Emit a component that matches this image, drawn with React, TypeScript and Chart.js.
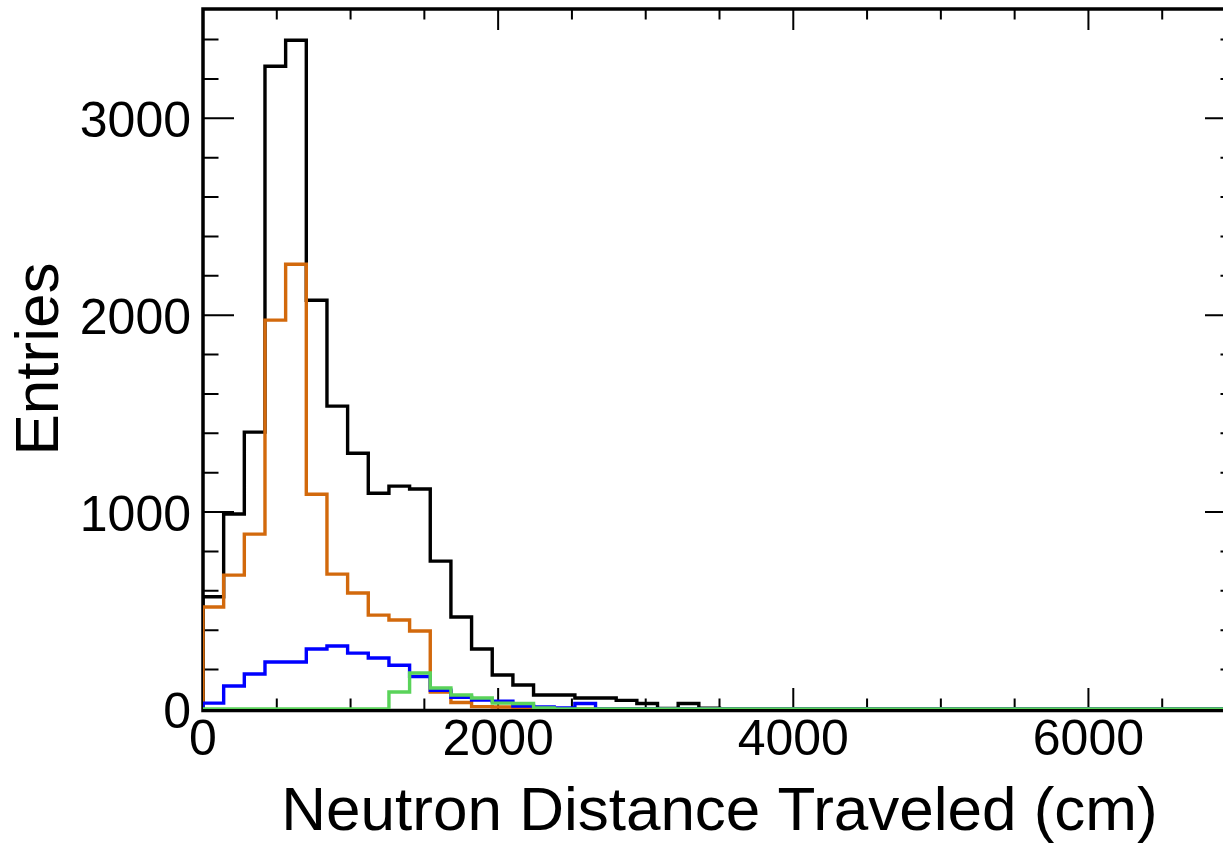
import React, { useEffect, useRef } from "react";
import { Chart, registerables } from "chart.js";

Chart.register(...registerables);

// Histogram binning: 50 bins of 140 cm from 0 to 7000 cm
const X_MIN = 0;
const X_MAX = 7000;
const BIN_WIDTH = 140;
const Y_MAX = 3555;

const X_TICK_VALUES = [0, 2000, 4000, 6000];
const X_TICK_LABELS = ["0", "2000", "4000", "6000"];
const Y_TICK_VALUES = [0, 1000, 2000, 3000];
const Y_TICK_LABELS = ["0", "1000", "2000", "3000"];

const totalCounts = [
  570, 990, 1406, 3264, 3396, 2076, 1538, 1299, 1096, 1132,
  1117, 751, 467, 305, 173, 122, 71, 71, 56, 56,
  44, 28, 3, 28, 4, 2, 1, 0, 0, 0,
  0, 0, 0, 0, 0, 0, 0, 0, 0, 0,
  0, 0, 0, 0, 0, 0, 0, 0, 0, 0,
];
const orangeCounts = [
  518, 680, 888, 1975, 2259, 1091, 685, 589, 477, 452,
  396, 86, 33, 12, 10, 8, 0, 0, 0, 0,
  0, 0, 0, 0, 0, 0, 0, 0, 0, 0,
  0, 0, 0, 0, 0, 0, 0, 0, 0, 0,
  0, 0, 0, 0, 0, 0, 0, 0, 0, 0,
];
const blueCounts = [
  30, 117, 178, 239, 239, 305, 320, 284, 259, 222,
  165, 95, 60, 45, 40, 15, 10, 5, 28, 0,
  0, 0, 0, 0, 0, 0, 0, 0, 0, 0,
  0, 0, 0, 0, 0, 0, 0, 0, 0, 0,
  0, 0, 0, 0, 0, 0, 0, 0, 0, 0,
];
const greenCounts = [
  0, 0, 0, 0, 0, 0, 0, 0, 0, 86,
  183, 107, 71, 56, 30, 28, 5, 0, 0, 0,
  0, 0, 0, 0, 0, 0, 0, 0, 0, 0,
  0, 0, 0, 0, 0, 0, 0, 0, 0, 0,
  0, 0, 0, 0, 0, 0, 0, 0, 0, 0,
];

const FONT = "'Liberation Sans', Arial, Helvetica, sans-serif";

function histPoints(counts: number[]) {
  const pts: { x: number; y: number }[] = [{ x: X_MIN, y: 0 }];
  counts.forEach((c, i) => pts.push({ x: X_MIN + i * BIN_WIDTH, y: c }));
  pts.push({ x: X_MIN + counts.length * BIN_WIDTH, y: counts[counts.length - 1] });
  pts.push({ x: X_MIN + counts.length * BIN_WIDTH, y: 0 });
  return pts;
}

const framePlugin = {
  id: "rootFrame",
  beforeDatasetsDraw(chart: any) {
    const { ctx, chartArea, scales } = chart;
    const { left, right, top, bottom } = chartArea;
    const xs = scales.x;
    const ys = scales.y;
    ctx.save();
    ctx.strokeStyle = "#000";
    ctx.lineWidth = 2;
    ctx.beginPath();
    for (let v = X_MIN; v <= X_MAX; v += 500) {
      const px = xs.getPixelForValue(v);
      const len = v % 2000 === 0 ? 21 : 10.5;
      ctx.moveTo(px, bottom);
      ctx.lineTo(px, bottom - len);
      ctx.moveTo(px, top);
      ctx.lineTo(px, top + len);
    }
    for (let v = 0; v <= Y_MAX; v += 200) {
      const py = ys.getPixelForValue(v);
      const len = v % 1000 === 0 ? 31 : 15.5;
      ctx.moveTo(left, py);
      ctx.lineTo(left + len, py);
      ctx.moveTo(right, py);
      ctx.lineTo(right - len, py);
    }
    ctx.stroke();
    ctx.lineWidth = 3.5;
    ctx.beginPath();
    ctx.moveTo(left, bottom + 1.5);
    ctx.lineTo(left, top);
    ctx.lineTo(right, top);
    ctx.lineTo(right, bottom + 1.5);
    ctx.moveTo(left - 1.75, bottom + 1.5);
    ctx.lineTo(right + 1.75, bottom + 1.5);
    ctx.stroke();
    ctx.restore();
  },
  afterDraw(chart: any) {
    const { ctx, scales } = chart;
    ctx.save();
    ctx.fillStyle = "#000";
    ctx.font = `50px ${FONT}`;
    ctx.textBaseline = "alphabetic";
    ctx.textAlign = "center";
    X_TICK_VALUES.forEach((v, i) => {
      ctx.fillText(X_TICK_LABELS[i], scales.x.getPixelForValue(v), 755);
    });
    ctx.textAlign = "right";
    Y_TICK_VALUES.forEach((v, i) => {
      ctx.fillText(Y_TICK_LABELS[i], 191, scales.y.getPixelForValue(v) + 18.5);
    });
    ctx.restore();
  },
};

export default function App() {
  const ref = useRef<HTMLCanvasElement | null>(null);

  useEffect(() => {
    if (!ref.current) return;
    const mk = (label: string, counts: number[], color: string, order: number) => ({
      label,
      data: histPoints(counts),
      borderColor: color,
      backgroundColor: color,
      borderWidth: 3.4,
      pointRadius: 0,
      fill: false,
      stepped: "before" as const,
      tension: 0,
      order,
    });
    const chart = new Chart(ref.current, {
      type: "line",
      data: {
        datasets: [
          mk("All", totalCounts, "#000000", 4),
          mk("Orange", orangeCounts, "#d2690c", 3),
          mk("Blue", blueCounts, "#0000ff", 2),
          mk("Green", greenCounts, "#5ad35a", 1),
        ],
      },
      options: {
        responsive: false,
        animation: false,
        events: [],
        layout: { padding: { top: 9, right: 24, left: 0, bottom: 0 } },
        plugins: { legend: { display: false }, tooltip: { enabled: false } },
        scales: {
          x: {
            type: "linear",
            min: X_MIN,
            max: X_MAX,
            afterFit: (s: any) => {
              s.height = 136;
              s.paddingLeft = 0;
              s.paddingRight = 0;
            },
            grid: { display: false, drawTicks: false },
            border: { display: false },
            ticks: { display: false, stepSize: 2000 },
            title: {
              display: true,
              text: "Neutron Distance Traveled (cm)",
              color: "#000",
              font: { family: FONT, size: 62, lineHeight: 1 },
              padding: { top: 0, bottom: 1 },
            },
          },
          y: {
            type: "linear",
            min: 0,
            max: Y_MAX,
            afterFit: (s: any) => {
              s.width = 203;
              s.paddingTop = 0;
              s.paddingBottom = 0;
            },
            grid: { display: false, drawTicks: false },
            border: { display: false },
            ticks: { display: false, stepSize: 1000 },
            title: {
              display: true,
              text: "Entries",
              color: "#000",
              font: { family: FONT, size: 62, lineHeight: 1 },
              padding: { top: 10, bottom: 0 },
            },
          },
        },
      },
      plugins: [framePlugin],
    });
    return () => chart.destroy();
  }, []);

  return (
    <div
      style={{
        position: "fixed",
        left: 0,
        top: 0,
        width: 1223,
        height: 845,
        overflow: "hidden",
        background: "#fff",
      }}
    >
      <canvas ref={ref} width={1260} height={845} style={{ display: "block" }} />
    </div>
  );
}
